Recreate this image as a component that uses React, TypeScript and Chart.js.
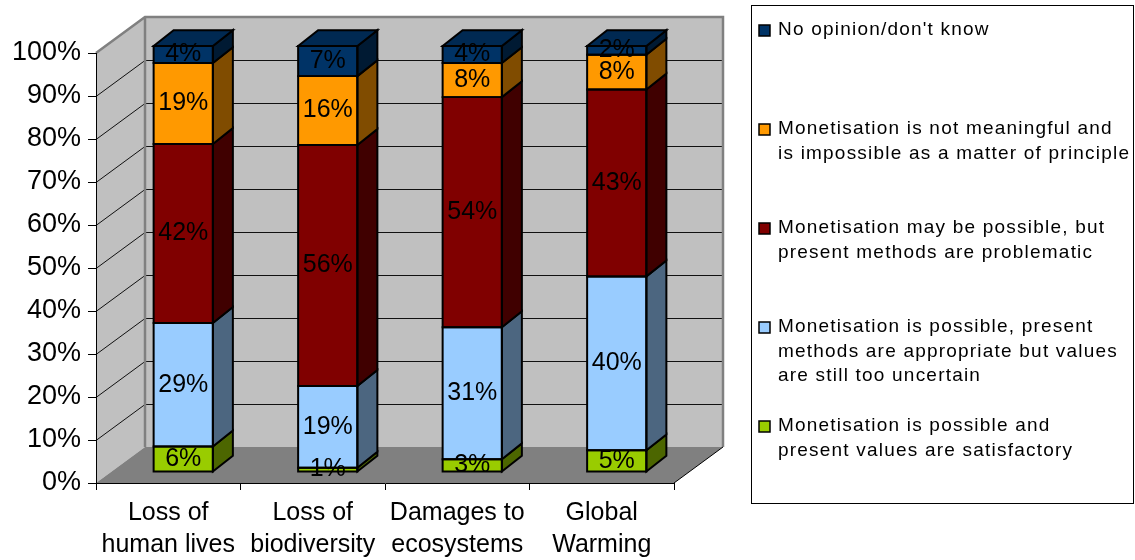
import { useEffect, useRef } from 'react';
import { Chart, registerables } from 'chart.js';

Chart.register(...registerables);

// Categories (x axis, two lines each)
const categories: string[][] = [
  ['Loss of', 'human lives'],
  ['Loss of', 'biodiversity'],
  ['Damages to', 'ecosystems'],
  ['Global', 'Warming'],
];

// Survey answers, in percent, stacked from the bottom up
const satisfactory = [6, 1, 3, 5];
const tooUncertain = [29, 19, 31, 40];
const problematic = [42, 56, 54, 43];
const notMeaningful = [19, 16, 8, 8];
const noOpinion = [4, 7, 4, 2];

const seriesLabels: string[][] = [
  ['Monetisation is possible and', 'present values are satisfactory'],
  ['Monetisation is possible, present', 'methods are appropriate but values', 'are still too uncertain'],
  ['Monetisation may be possible, but', 'present methods are problematic'],
  ['Monetisation is not meaningful and', 'is impossible as a matter of principle'],
  ['No opinion/don\'t know'],
];
const seriesValues = [satisfactory, tooUncertain, problematic, notMeaningful, noOpinion];

// Value axis ticks (percent)
const yTickValues = [0, 10, 20, 30, 40, 50, 60, 70, 80, 90, 100];

// Face colours: front, side (shaded) and top
const frontColors = ['#99CC00', '#99CCFF', '#800000', '#FF9900', '#003366'];
const sideColors = ['#4C6600', '#4C6680', '#400000', '#804C00', '#001A33'];
const topColors = ['#7AA300', '#7AA3CC', '#660000', '#CC7A00', '#002952'];

// Each column is drawn as its share of the column total (100% stacked)
const totals = categories.map((_, i) => seriesValues.reduce((s, arr) => s + arr[i], 0));
const shares = seriesValues.map((arr) => arr.map((v, i) => (v / totals[i]) * 100));

const FONT = '"Liberation Sans", Arial, sans-serif';

// Oblique projection of the box (walls / floor) and of the columns
const WALL_DX = 49;
const WALL_DY = -36;
const BAR_SHIFT_X = 15;
const BAR_SHIFT_Y = -11;
const BAR_SCALE = 426 / 430;
const BAR_DX = 20;
const BAR_DY = -16;

// Legend box
const LEGEND_TEXT_X = 778;
const LEGEND_TEXT_WIDTH = 351;

function poly(ctx: CanvasRenderingContext2D, pts: number[][], fill?: string, stroke?: string, lw = 1) {
  ctx.beginPath();
  ctx.moveTo(pts[0][0], pts[0][1]);
  for (let i = 1; i < pts.length; i++) ctx.lineTo(pts[i][0], pts[i][1]);
  ctx.closePath();
  if (fill) {
    ctx.fillStyle = fill;
    ctx.fill();
  }
  if (stroke) {
    ctx.strokeStyle = stroke;
    ctx.lineWidth = lw;
    ctx.lineJoin = 'miter';
    ctx.stroke();
  }
}

// Text with extra tracking between characters
function spacedText(ctx: CanvasRenderingContext2D, text: string, x: number, y: number, spacing: number) {
  let cx = x;
  for (const ch of text) {
    ctx.fillText(ch, cx, y);
    cx += ctx.measureText(ch).width + spacing;
  }
}

function plainWidth(ctx: CanvasRenderingContext2D, text: string) {
  let w = 0;
  for (const ch of text) w += ctx.measureText(ch).width;
  return w;
}

const box3d = {
  id: 'box3d',
  beforeDraw(chart: any) {
    const { ctx, chartArea: a, scales } = chart;
    const y = scales.y;
    ctx.save();
    // back wall
    poly(ctx, [
      [a.left + WALL_DX, a.top + WALL_DY],
      [a.right + WALL_DX, a.top + WALL_DY],
      [a.right + WALL_DX, a.bottom + WALL_DY],
      [a.left + WALL_DX, a.bottom + WALL_DY],
    ], '#C0C0C0');
    // side wall
    poly(ctx, [
      [a.left, a.top],
      [a.left + WALL_DX, a.top + WALL_DY],
      [a.left + WALL_DX, a.bottom + WALL_DY],
      [a.left, a.bottom],
    ], '#C0C0C0');
    // floor
    poly(ctx, [
      [a.left, a.bottom],
      [a.right, a.bottom],
      [a.right + WALL_DX, a.bottom + WALL_DY],
      [a.left + WALL_DX, a.bottom + WALL_DY],
    ], '#808080');

    // gridlines across both walls
    ctx.strokeStyle = '#111';
    ctx.lineWidth = 1;
    for (const v of yTickValues) {
      if (v === 0 || v === 100) continue;
      const py = Math.round(y.getPixelForValue(v)) + 0.5;
      ctx.beginPath();
      ctx.moveTo(a.left, py);
      ctx.lineTo(a.left + WALL_DX, py + WALL_DY);
      ctx.lineTo(a.right + WALL_DX, py + WALL_DY);
      ctx.stroke();
    }

    // wall edges
    ctx.strokeStyle = '#808080';
    ctx.lineWidth = 2.5;
    ctx.beginPath();
    ctx.moveTo(a.left, a.top);
    ctx.lineTo(a.left + WALL_DX, a.top + WALL_DY);
    ctx.lineTo(a.right + WALL_DX, a.top + WALL_DY);
    ctx.lineTo(a.right + WALL_DX, a.bottom + WALL_DY);
    ctx.moveTo(a.left + WALL_DX, a.top + WALL_DY);
    ctx.lineTo(a.left + WALL_DX, a.bottom + WALL_DY);
    ctx.stroke();

    // floor front-right edge
    ctx.strokeStyle = '#000';
    ctx.lineWidth = 1;
    ctx.beginPath();
    ctx.moveTo(a.right, a.bottom);
    ctx.lineTo(a.right + WALL_DX, a.bottom + WALL_DY);
    ctx.stroke();
    ctx.restore();
  },
  beforeDatasetsDraw(chart: any) {
    const { ctx, chartArea: a } = chart;
    ctx.save();
    ctx.translate(BAR_SHIFT_X, a.bottom + BAR_SHIFT_Y);
    ctx.scale(1, BAR_SCALE);
    ctx.translate(0, -a.bottom);
  },
  afterDatasetsDraw(chart: any) {
    const { ctx, chartArea: a } = chart;
    const n = seriesValues.length;
    ctx.lineWidth = 2;
    for (let i = 0; i < categories.length; i++) {
      for (let d = 0; d < n; d++) {
        const el = chart.getDatasetMeta(d).data[i];
        const { x, y, base, width } = el.getProps(['x', 'y', 'base', 'width'], true);
        const l = x - width / 2;
        const r = x + width / 2;
        const t = Math.min(y, base);
        const b = Math.max(y, base);
        // side face
        poly(ctx, [[r, b], [r, t], [r + BAR_DX, t + BAR_DY], [r + BAR_DX, b + BAR_DY]], sideColors[d], '#000', 2);
        // front outline
        poly(ctx, [[l, t], [r, t], [r, b], [l, b]], undefined, '#000', 2);
        if (d === n - 1) {
          // top face
          poly(ctx, [[l, t], [r, t], [r + BAR_DX, t + BAR_DY], [l + BAR_DX, t + BAR_DY]], topColors[d], '#000', 2);
        }
      }
    }
    ctx.restore();

    // value labels on the front faces
    const mapY = (py: number) => a.bottom + BAR_SHIFT_Y + (py - a.bottom) * BAR_SCALE;
    ctx.save();
    ctx.font = `25px ${FONT}`;
    ctx.fillStyle = '#000';
    ctx.textAlign = 'center';
    ctx.textBaseline = 'middle';
    for (let d = 0; d < n; d++) {
      const meta = chart.getDatasetMeta(d);
      meta.data.forEach((el: any, i: number) => {
        const { x, y, base } = el.getProps(['x', 'y', 'base'], true);
        ctx.fillText(`${seriesValues[d][i]}%`, x + BAR_SHIFT_X, mapY((y + base) / 2));
      });
    }
    ctx.restore();
  },
  afterDraw(chart: any) {
    const { ctx } = chart;
    ctx.save();
    // legend frame
    ctx.strokeStyle = '#000';
    ctx.lineWidth = 1;
    ctx.strokeRect(751.5, 5.5, 382, 498);
    ctx.font = `19px ${FONT}`;
    ctx.textAlign = 'left';
    ctx.textBaseline = 'middle';
    // tracking chosen so the longest line fills the legend text column
    let longest = '';
    let longestW = 0;
    for (const lines of seriesLabels) {
      for (const line of lines) {
        const w = plainWidth(ctx, line);
        if (w > longestW) {
          longestW = w;
          longest = line;
        }
      }
    }
    const spacing = Math.max(0, (LEGEND_TEXT_WIDTH - longestW) / (longest.length - 1));
    const n = seriesLabels.length;
    for (let k = 0; k < n; k++) {
      const d = n - 1 - k;
      const cy = 30 + k * 99;
      ctx.fillStyle = frontColors[d];
      ctx.fillRect(759, cy - 5, 11, 11);
      ctx.strokeStyle = '#000';
      ctx.lineWidth = 1.5;
      ctx.strokeRect(759, cy - 5, 11, 11);
      ctx.fillStyle = '#000';
      seriesLabels[d].forEach((line, j) => {
        spacedText(ctx, line, LEGEND_TEXT_X, cy + j * 24.5, spacing);
      });
    }
    ctx.restore();
  },
};

export default function App() {
  const canvasRef = useRef<HTMLCanvasElement | null>(null);

  useEffect(() => {
    const canvas = canvasRef.current;
    if (!canvas) return;
    const chart = new Chart(canvas, {
      type: 'bar',
      data: {
        labels: categories,
        datasets: seriesValues.map((_, d) => ({
          label: seriesLabels[d].join(' '),
          data: shares[d],
          backgroundColor: frontColors[d],
          borderWidth: 0,
          barPercentage: 0.41,
          categoryPercentage: 1,
        })),
      },
      options: {
        responsive: false,
        animation: false,
        layout: { padding: { left: 0, top: 53, right: 461, bottom: 0 } },
        plugins: {
          legend: { display: false },
          tooltip: { enabled: false },
        },
        scales: {
          x: {
            stacked: true,
            grid: { drawOnChartArea: false, drawTicks: true, tickLength: 7, color: '#000', offset: true },
            border: { display: true, color: '#000', width: 1 },
            ticks: {
              color: '#000',
              padding: 7,
              maxRotation: 0,
              autoSkip: false,
              font: { family: FONT, size: 25, lineHeight: '32px' },
            },
            afterFit: (scale: any) => {
              scale.height = 77;
            },
          },
          y: {
            stacked: true,
            min: 0,
            max: 100,
            afterBuildTicks: (scale: any) => {
              scale.ticks = yTickValues.map((v) => ({ value: v }));
            },
            grid: { drawOnChartArea: false, drawTicks: true, tickLength: 8, color: '#000' },
            border: { display: true, color: '#000', width: 1 },
            ticks: {
              color: '#000',
              padding: 7,
              font: { family: FONT, size: 27 },
              callback: (v: any) => `${v}%`,
            },
            afterFit: (scale: any) => {
              scale.width = 96;
            },
          },
        },
      },
      plugins: [box3d],
    });
    return () => chart.destroy();
  }, []);

  return (
    <div style={{ position: 'fixed', left: 0, top: 0, width: 1135, height: 560, background: '#fff' }}>
      <canvas ref={canvasRef} width={1135} height={560} style={{ display: 'block' }} />
    </div>
  );
}
